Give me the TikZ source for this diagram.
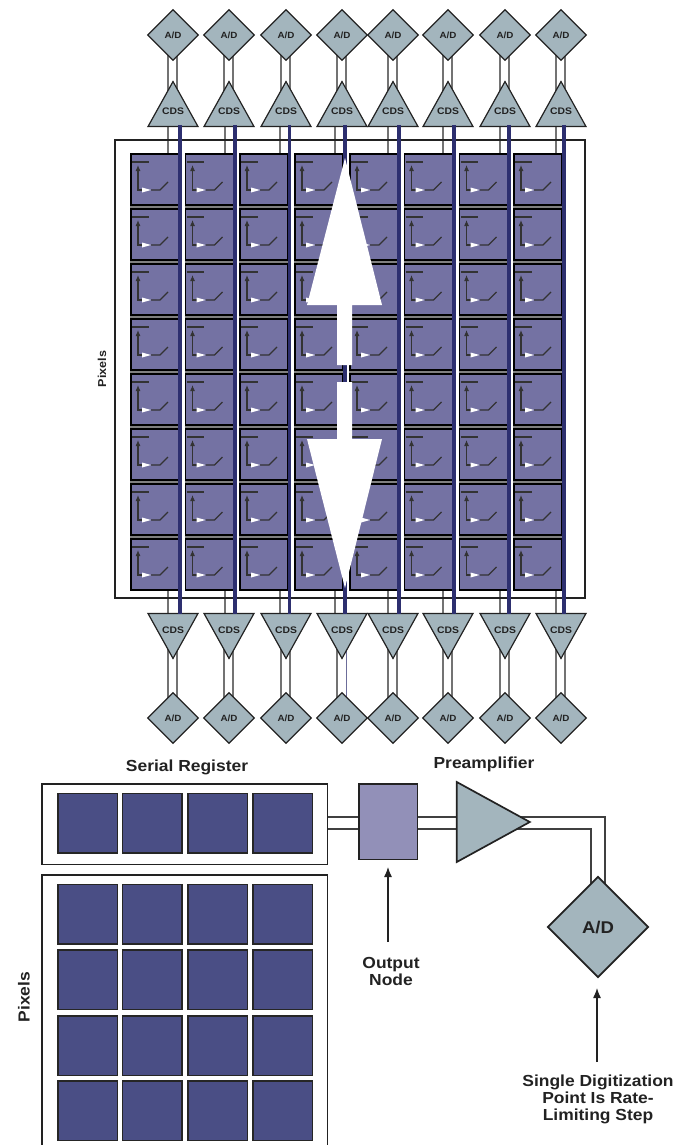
\documentclass[tikz,border=0pt]{standalone}
\usepackage{fontspec}
\setmainfont{Liberation Sans}
\newfontfamily\lblfont[FakeStretch=1.09]{Liberation Sans}
\usepackage{xcolor}
\usetikzlibrary{shapes.geometric,arrows.meta,positioning,backgrounds,calc}
\definecolor{pixlight}{HTML}{7472A3}
\definecolor{pixdark}{HTML}{4A4E85}
\definecolor{busblue}{HTML}{2D2F6F}
\definecolor{ampgray}{HTML}{A3B5BD}
\definecolor{nodeviolet}{HTML}{9290B8}
\definecolor{inkdark}{HTML}{222222}

\begin{document}
\begin{tikzpicture}[
  x=1pt, y=-1pt,
  ad/.style={draw=inkdark, diamond, aspect=1, fill=ampgray, line width=1.2pt, inner sep=0pt, minimum size=51pt, font=\lblfont\bfseries\fontsize{9}{11}\selectfont, text=inkdark},
  cds/.style={draw=inkdark, isosceles triangle, isosceles triangle stretches, fill=ampgray, line width=1.2pt, inner sep=0pt, minimum width=50pt, minimum height=45pt},
  cdstext/.style={font=\lblfont\bfseries\fontsize{9.5}{12}\selectfont, text=inkdark, inner sep=0pt},
  frame/.style={draw=inkdark, anchor=north west, inner sep=0pt},
  cell/.style={draw=black, fill=pixlight, line width=1.5pt, anchor=north west, inner sep=0pt, minimum width=48pt, minimum height=51pt},
  bigcell/.style={draw=black!85, fill=pixdark, line width=1.5pt, anchor=north west, inner sep=0pt, minimum width=59.5pt, minimum height=59.5pt},
  wire/.style={draw=black!55, line width=1.5pt},
  bus/.style={draw=busblue, line width=3.6pt},
  pipe/.style={draw=black!75, line width=1.8pt},
  arr/.style={-{Latex[length=10pt,width=8pt]}, line width=1.2pt, draw=inkdark},
  lbl/.style={font=\lblfont\bfseries\fontsize{16}{17}\selectfont, text=inkdark, align=center},
  sw/.pic={
    \draw[black!80, line width=1.1pt] (2,9) -- (19,9);
    \draw[black!80, line width=1.1pt, -{Latex[length=6pt,width=5pt]}] (12,37) -- (8,37) -- (8,12);
    \draw[black!80, line width=1.1pt] (21,37) -- (30,37) -- (38,29);
    \fill[white] (12,34.5) -- (21,37) -- (12,39.5) -- cycle;
  }
]
\useasboundingbox (0,0) rectangle (680,1145);

% pixel array with column converters
\node[frame, line width=1.5pt, minimum width=470pt, minimum height=458pt] (pixelframe) at (114,139) {};
\node[rotate=90, font=\lblfont\bfseries\fontsize{11.5}{14}\selectfont, text=inkdark] (pixelname) at (102,369) {Pixels};

\foreach \cx/\ax/\wx/\bx [count=\c] in {130/173/168/180,184.5/229/225/235,239/286/280/289.5,294/342/335/345,349/393/388/399,403.5/448/443/454,458.5/505/500/509,513/561/556/564}{
  \foreach \ry [count=\r] in {153,208,263,318,373,428,483,538}{
    \node[cell] (cell\r-\c) at (\cx,\ry) {};
    \pic at (cell\r-\c.north west) {sw};
  }
  \foreach \r [count=\n from 2] in {1,...,7}{
    \draw[black!50, line width=1.6pt] ($(cell\r-\c.south west)!.5!(cell\n-\c.north west)$) -- ($(cell\r-\c.south east)!.5!(cell\n-\c.north east)$);
  }
  \node[ad] (adt\c) at (\ax,35) {A/D};
  \node[cds, shape border rotate=90, anchor=apex] (cdst\c) at (\ax,80) {};
  \node[cdstext] (cdsl\c) at (\ax,111) {CDS};
  \node[cds, shape border rotate=270, anchor=apex] (cdsb\c) at (\ax,660) {};
  \node[cdstext] (cdsm\c) at (\ax,630) {CDS};
  \node[ad] (adb\c) at (\ax,718) {A/D};
  \coordinate (bust\c) at (\bx,125);
  \coordinate (busb\c) at (\bx,614);
  \coordinate (wiret\c) at (\wx,125);
  \coordinate (wireb\c) at (\wx,614);
  \draw[bus] (bust\c) -- (busb\c);
  \begin{scope}[on background layer]
    \draw[wire] ([xshift=-5pt]adt\c.center) -- ([xshift=-5pt]cdst\c.center);
    \draw[wire] ([xshift=4pt]adt\c.center) -- ([xshift=4pt]cdst\c.center);
    \draw[wire] ([xshift=-5pt]adb\c.center) -- ([xshift=-5pt]cdsb\c.center);
    \ifnum\c=4
      \draw[busblue!70, line width=.8pt] ([xshift=4pt]adb\c.center) -- ([xshift=4pt]cdsb\c.center);
    \else
      \draw[wire] ([xshift=4pt]adb\c.center) -- ([xshift=4pt]cdsb\c.center);
    \fi
    \draw[wire] (wiret\c) -- (cell1-\c.north -| wiret\c);
    \draw[wire] (cell8-\c.south -| wireb\c) -- (wireb\c);
  \end{scope}
}

% readout direction
\fill[white] (345,158) -- (382,305) -- (352,305) -- (352,365) -- (337,365) -- (337,305) -- (307,305) -- cycle;
\fill[white] (345,588) -- (382,439) -- (352,439) -- (352,382) -- (337,382) -- (337,439) -- (307,439) -- cycle;

% single output chain
\node[frame, line width=1.9pt, minimum width=285.5pt, minimum height=80.5pt] (serialframe) at (41,783) {};
\node[frame, line width=1.9pt, minimum width=285.5pt, minimum height=271pt] (bigframe) at (41,874) {};
\node[lbl] (serialname) at (187,767) {Serial Register};
\node[lbl, rotate=90] (bigname) at (24,997) {Pixels};
\foreach \cx [count=\c] in {57,121.5,187,252}{
  \node[bigcell] (reg\c) at (\cx,792.5) {};
  \foreach \ry [count=\r] in {883.5,949,1015,1080}
    \node[bigcell] (big\r-\c) at (\cx,\ry) {};
}
\node[draw=inkdark, fill=nodeviolet, line width=1.7pt, anchor=north west, inner sep=0pt, minimum width=58.5pt, minimum height=75.5pt] (outnode) at (358,783) {};
\node[draw=inkdark, fill=ampgray, line width=1.7pt, isosceles triangle, isosceles triangle stretches, inner sep=0pt, minimum width=80pt, minimum height=73pt, anchor=apex] (preamp) at (532,822) {};
\node[draw=inkdark, fill=ampgray, diamond, aspect=1, line width=1.7pt, inner sep=0pt, minimum size=101pt, font=\lblfont\bfseries\fontsize{17}{21}\selectfont, text=inkdark] (adbig) at (598,927) {A/D};
\node[lbl] (prename) at (484,764) {Preamplifier};
\node[lbl] (outname) at (391,971) {Output\\Node};
\node[lbl] (stepname) at (598,1099) {Single Digitization\\Point Is Rate-\\Limiting Step};

\coordinate (pipetop) at (327,817);
\coordinate (pipebot) at (327,829);
\coordinate (outarrow) at (388,942);
\coordinate (adarrow) at (597,1062);
\begin{scope}[on background layer]
  \draw[pipe] (pipetop) -- (outnode.west |- pipetop);
  \draw[pipe] (pipebot) -- (outnode.west |- pipebot);
  \draw[pipe] (outnode.east |- pipetop) -- (preamp.lower side |- pipetop);
  \draw[pipe] (outnode.east |- pipebot) -- (preamp.lower side |- pipebot);
  \draw[pipe] (preamp.center |- pipetop) -| ([xshift=7pt]adbig.center);
  \draw[pipe] (preamp.center |- pipebot) -| ([xshift=-7pt]adbig.center);
\end{scope}
\draw[arr] (outarrow) -- (388,867);
\draw[arr] (adarrow) -- (597,988);
\end{tikzpicture}
\end{document}
